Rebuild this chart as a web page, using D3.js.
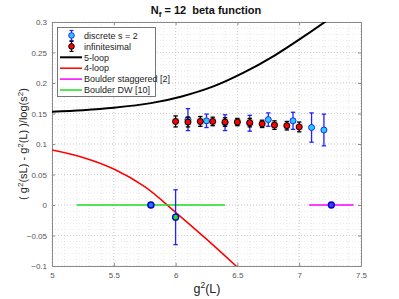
<!DOCTYPE html>
<html>
<head>
<meta charset="utf-8">
<script src="https://cdnjs.cloudflare.com/ajax/libs/d3/7.8.5/d3.min.js"></script>
<style>
  body { margin: 0; background: #fff; }
  svg { font-family: "Liberation Sans", Arial, sans-serif; }
</style>
</head>
<body>
<svg id="chart" width="399" height="299"></svg>
<script>
// Data
var discreteX   = [6.1, 6.25, 6.4, 6.6, 6.75, 6.95, 7.1, 7.2];
var discreteY   = [0.140, 0.138, 0.135, 0.134, 0.140, 0.138, 0.127, 0.123];
var discreteErr = [0.018, 0.011, 0.013, 0.013, 0.011, 0.014, 0.024, 0.026];

var infX   = [6.0, 6.1, 6.2, 6.3, 6.4, 6.5, 6.6, 6.7, 6.8, 6.9, 7.0];
var infY   = [0.137, 0.136, 0.137, 0.137, 0.136, 0.136, 0.135, 0.133, 0.131, 0.130, 0.128];
var infErr = [0.009, 0.008, 0.008, 0.007, 0.007, 0.006, 0.007, 0.006, 0.007, 0.007, 0.008];

var fiveLoopX = [5.0, 5.25, 5.5, 5.8, 6.05, 6.3, 6.55, 6.8, 7.05, 7.25];
var fiveLoopY = [0.153, 0.1555, 0.1595, 0.167, 0.178, 0.194, 0.217, 0.245, 0.278, 0.306];

var fourLoopX = [5.0, 5.25, 5.5, 5.75, 6.0, 6.25, 6.5];
var fourLoopY = [0.090, 0.078, 0.059, 0.030, -0.012, -0.056, -0.102];

var staggeredRange = [7.08, 7.44];
var staggeredPt = [7.26, 0];
var dwRange = [5.2, 6.4];
var dwPt = [5.8, 0];
var dwErrPt = [6.0, -0.02, 0.045];

var xTicks = [5, 5.5, 6, 6.5, 7, 7.5];
var yTicks = [-0.1, -0.05, 0, 0.05, 0.1, 0.15, 0.2, 0.25, 0.3];

var legendLabels = ["discrete s = 2", "infinitesimal", "5-loop", "4-loop", "Boulder staggered [2]", "Boulder DW [10]"];

// Colors
var blue = "#2222ff";
var cyan = "#22ccff";
var red = "#ff0000";
var magenta = "#ff00ff";
var green = "#22dd22";
var axisGray = "#8a8a8a";

var svg = d3.select("#chart");
var margin = { left: 52, right: 38, top: 22, bottom: 33 };
var W = 399, H = 299;

var x = d3.scaleLinear().domain([5, 7.5]).range([margin.left, W - margin.right]);
var y = d3.scaleLinear().domain([-0.1, 0.3]).range([H - margin.bottom, margin.top]);

// clip for curves
svg.append("clipPath").attr("id", "plotClip")
  .append("rect")
  .attr("x", x(5)).attr("y", y(0.3))
  .attr("width", x(7.5) - x(5)).attr("height", y(-0.1) - y(0.3));

// Minor grid
var grid = svg.append("g");
d3.range(5.1, 7.5, 0.1).forEach(function(v) {
  grid.append("line")
    .attr("x1", x(v)).attr("x2", x(v)).attr("y1", y(-0.1)).attr("y2", y(0.3))
    .style("stroke", "#d6d6d6").style("stroke-width", 0.6).style("stroke-dasharray", "1,2");
});
d3.range(-0.09, 0.3, 0.01).forEach(function(v) {
  grid.append("line")
    .attr("x1", x(5)).attr("x2", x(7.5)).attr("y1", y(v)).attr("y2", y(v))
    .style("stroke", "#d6d6d6").style("stroke-width", 0.6).style("stroke-dasharray", "1,2");
});
// Major grid
xTicks.forEach(function(v) {
  grid.append("line")
    .attr("x1", x(v)).attr("x2", x(v)).attr("y1", y(-0.1)).attr("y2", y(0.3))
    .style("stroke", "#c4c4c4").style("stroke-width", 0.7).style("stroke-dasharray", "1,2");
});
yTicks.forEach(function(v) {
  grid.append("line")
    .attr("x1", x(5)).attr("x2", x(7.5)).attr("y1", y(v)).attr("y2", y(v))
    .style("stroke", "#c4c4c4").style("stroke-width", 0.7).style("stroke-dasharray", "1,2");
});

// Axes (box with inward ticks)
var xAxisB = d3.axisBottom(x).tickValues(xTicks).tickSizeInner(-3).tickSizeOuter(0).tickPadding(6)
  .tickFormat(d3.format("~g"));
var yAxisL = d3.axisLeft(y).tickValues(yTicks).tickSizeInner(-3).tickSizeOuter(0).tickPadding(5)
  .tickFormat(d3.format("~g"));
var xAxisT = d3.axisTop(x).tickValues(xTicks).tickSizeInner(-3).tickSizeOuter(0).tickFormat("");
var yAxisR = d3.axisRight(y).tickValues(yTicks).tickSizeInner(-3).tickSizeOuter(0).tickFormat("");

function styleAxis(g) {
  g.selectAll("path").style("stroke", axisGray);
  g.selectAll("line").style("stroke", axisGray);
  g.selectAll("text").style("font-size", "8px").style("fill", "#555")
    .style("font-family", "'Liberation Sans', Arial, sans-serif");
}
svg.append("g").attr("transform", "translate(0," + y(-0.1) + ")").call(xAxisB).call(styleAxis);
svg.append("g").attr("transform", "translate(" + x(5) + ",0)").call(yAxisL).call(styleAxis);
svg.append("g").attr("transform", "translate(0," + y(0.3) + ")").call(xAxisT).call(styleAxis);
svg.append("g").attr("transform", "translate(" + x(7.5) + ",0)").call(yAxisR).call(styleAxis);

// Curves
var line = d3.line().x(function(d) { return x(d[0]); }).y(function(d) { return y(d[1]); })
  .curve(d3.curveCatmullRom.alpha(0.5));
var plot = svg.append("g").attr("clip-path", "url(#plotClip)");

plot.append("path")
  .datum(fiveLoopX.map(function(v, i) { return [v, fiveLoopY[i]]; }))
  .attr("d", line).style("fill", "none").style("stroke", "#000").style("stroke-width", 2);
plot.append("path")
  .datum(fourLoopX.map(function(v, i) { return [v, fourLoopY[i]]; }))
  .attr("d", line).style("fill", "none").style("stroke", red).style("stroke-width", 1.5);

// Boulder ranges
plot.append("line")
  .attr("x1", x(dwRange[0])).attr("x2", x(dwRange[1])).attr("y1", y(0)).attr("y2", y(0))
  .style("stroke", green).style("stroke-width", 1.5);
plot.append("line")
  .attr("x1", x(staggeredRange[0])).attr("x2", x(staggeredRange[1])).attr("y1", y(0)).attr("y2", y(0))
  .style("stroke", magenta).style("stroke-width", 1.5);

function errBar(g, cx, cy, e, color, cap) {
  g.append("line").attr("x1", x(cx)).attr("x2", x(cx)).attr("y1", y(cy - e)).attr("y2", y(cy + e))
    .style("stroke", color).style("stroke-width", 1.3);
  [cy - e, cy + e].forEach(function(v) {
    g.append("line").attr("x1", x(cx) - cap).attr("x2", x(cx) + cap).attr("y1", y(v)).attr("y2", y(v))
      .style("stroke", color).style("stroke-width", 1.3);
  });
}

// Boulder points
plot.append("circle").attr("cx", x(dwPt[0])).attr("cy", y(dwPt[1])).attr("r", 3)
  .style("fill", "#1e7cff").style("stroke", "#0000cc").style("stroke-width", 1.5);
errBar(plot, dwErrPt[0], dwErrPt[1], dwErrPt[2], blue, 2.2);
plot.append("circle").attr("cx", x(dwErrPt[0])).attr("cy", y(dwErrPt[1])).attr("r", 3)
  .style("fill", green).style("stroke", "#0000cc").style("stroke-width", 1.3);
plot.append("circle").attr("cx", x(staggeredPt[0])).attr("cy", y(staggeredPt[1])).attr("r", 3)
  .style("fill", "#3a3aff").style("stroke", "#0000cc").style("stroke-width", 1.3);

// Discrete s = 2
var disc = plot.append("g");
discreteX.forEach(function(v, i) {
  errBar(disc, v, discreteY[i], discreteErr[i], blue, 2.2);
});
disc.selectAll("circle").data(discreteX).enter().append("circle")
  .attr("cx", function(d) { return x(d); })
  .attr("cy", function(d, i) { return y(discreteY[i]); })
  .attr("r", 3)
  .style("fill", cyan).style("stroke", blue).style("stroke-width", 1);

// Infinitesimal
var inf = plot.append("g");
infX.forEach(function(v, i) {
  inf.append("rect").attr("x", x(v) - 3.5).attr("y", y(infY[i]) - 3.5).attr("width", 7).attr("height", 7)
    .style("fill", "#9a9a9a").style("opacity", 0.4);
  errBar(inf, v, infY[i], infErr[i], "#000", 2.2);
});
inf.selectAll("circle").data(infX).enter().append("circle")
  .attr("cx", function(d) { return x(d); })
  .attr("cy", function(d, i) { return y(infY[i]); })
  .attr("r", 3)
  .style("fill", red).style("stroke", "#000").style("stroke-width", 1);

// Legend
var lg = svg.append("g");
lg.append("rect").attr("x", 57.5).attr("y", 27.5).attr("width", 98).attr("height", 69)
  .style("fill", "#fff").style("stroke", "#555").style("stroke-width", 0.8);
var rowY = d3.scaleLinear().domain([0, 5]).range([35.5, 90]);
var lineColors = [null, null, "#000", red, magenta, green];
legendLabels.forEach(function(lbl, i) {
  var yy = rowY(i);
  if (i < 2) {
    var c = i === 0 ? blue : "#000";
    lg.append("line").attr("x1", 71.5).attr("x2", 71.5).attr("y1", yy - 5).attr("y2", yy + 5)
      .style("stroke", c).style("stroke-width", 1.2);
    [yy - 5, yy + 5].forEach(function(v) {
      lg.append("line").attr("x1", 69.5).attr("x2", 73.5).attr("y1", v).attr("y2", v)
        .style("stroke", c).style("stroke-width", 1.2);
    });
    lg.append("circle").attr("cx", 71.5).attr("cy", yy).attr("r", 2.8)
      .style("fill", i === 0 ? cyan : red).style("stroke", c).style("stroke-width", 1);
  } else {
    lg.append("line").attr("x1", 60).attr("x2", 82).attr("y1", yy).attr("y2", yy)
      .style("stroke", lineColors[i]).style("stroke-width", i === 2 ? 2 : 1.5);
  }
  lg.append("text").attr("x", 84).attr("y", yy + 3.2).text(lbl)
    .style("font-size", "9px").style("fill", "#222");
});

// Title
var title = svg.append("text").attr("x", 206).attr("y", 14).attr("text-anchor", "middle")
  .style("font-size", "11px").style("font-weight", "bold").style("fill", "#111");
title.append("tspan").text("N");
title.append("tspan").text("f").attr("dy", 3).style("font-size", "8px");
title.append("tspan").text(" = 12  beta function").attr("dy", -3).attr("xml:space", "preserve");

// X label
var xl = svg.append("text").attr("x", 207).attr("y", 293).attr("text-anchor", "middle")
  .style("font-size", "12.5px").style("fill", "#222");
xl.append("tspan").text("g");
xl.append("tspan").text("2").attr("dy", -5).style("font-size", "8.5px");
xl.append("tspan").text("(L)").attr("dy", 5);

// Y label
var yl = svg.append("text").attr("transform", "translate(27," + y(0.1) + ") rotate(-90)")
  .attr("text-anchor", "middle").style("font-size", "11px").style("fill", "#222");
yl.append("tspan").text("( g");
yl.append("tspan").text("2").attr("dy", -4).style("font-size", "8px");
yl.append("tspan").text("(sL) - g").attr("dy", 4);
yl.append("tspan").text("2").attr("dy", -4).style("font-size", "8px");
yl.append("tspan").text("(L) )/log(s").attr("dy", 4);
yl.append("tspan").text("2").attr("dy", -4).style("font-size", "8px");
yl.append("tspan").text(")").attr("dy", 4);
</script>
</body>
</html>
